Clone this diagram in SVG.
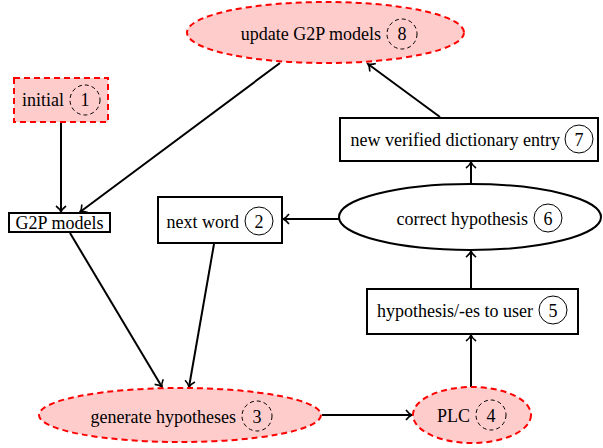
<svg xmlns="http://www.w3.org/2000/svg" width="603" height="448" viewBox="0 0 603 448">
<defs>
<marker id="ah" markerWidth="12" markerHeight="12" refX="9" refY="6" orient="auto" markerUnits="userSpaceOnUse">
<path d="M3,1 Q6,5 9,6 Q6,7 3,11" fill="none" stroke="#000" stroke-width="1.6"/>
</marker>
</defs>
<g id="connectors" fill="none" stroke="#000" stroke-width="2" marker-end="url(#ah)">
<line x1="61" y1="123" x2="61" y2="212"/>
<line x1="280" y1="63" x2="80" y2="212"/>
<line x1="440" y1="117" x2="368" y2="64"/>
<line x1="70" y1="233" x2="162" y2="387"/>
<line x1="214" y1="244" x2="189" y2="387"/>
<line x1="339" y1="219" x2="283" y2="219"/>
<line x1="471" y1="184" x2="471" y2="162"/>
<line x1="471" y1="288" x2="471" y2="251"/>
<line x1="471" y1="387" x2="471" y2="335"/>
<line x1="322" y1="415" x2="412" y2="415"/>
</g>
<g id="n8">
<ellipse cx="325.5" cy="32.5" rx="138.5" ry="30.5" fill="#ffcccc" stroke="#ff0000" stroke-width="2" stroke-dasharray="6,4"/>
<text x="381" y="40" text-anchor="end" font-family="Liberation Serif" font-size="18">update G2P models</text>
<circle cx="402" cy="34" r="15" fill="none" stroke="#000" stroke-width="1" stroke-dasharray="4,3"/>
<text x="402" y="40" text-anchor="middle" font-family="Liberation Serif" font-size="18">8</text>
</g>
<g id="n1">
<rect x="14" y="78" width="94" height="44" fill="#ffcccc" stroke="#ff0000" stroke-width="2" stroke-dasharray="6,4"/>
<text x="64" y="106" text-anchor="end" font-family="Liberation Serif" font-size="18">initial</text>
<circle cx="85" cy="100" r="15" fill="none" stroke="#000" stroke-width="1" stroke-dasharray="4,3"/>
<text x="85" y="106" text-anchor="middle" font-family="Liberation Serif" font-size="18">1</text>
</g>
<g id="g2p">
<rect x="9" y="213" width="101" height="19" fill="#fff" stroke="#000" stroke-width="2"/>
<text x="59.5" y="228.5" text-anchor="middle" font-family="Liberation Serif" font-size="18">G2P models</text>
</g>
<g id="n2">
<rect x="158" y="197" width="124" height="46" fill="#fff" stroke="#000" stroke-width="2"/>
<text x="239" y="228" text-anchor="end" font-family="Liberation Serif" font-size="18">next word</text>
<circle cx="259" cy="221" r="14" fill="none" stroke="#000" stroke-width="1"/>
<text x="259" y="228" text-anchor="middle" font-family="Liberation Serif" font-size="18">2</text>
</g>
<g id="n7">
<rect x="340" y="118" width="258" height="43" fill="#fff" stroke="#000" stroke-width="2"/>
<text x="560" y="146" text-anchor="end" font-family="Liberation Serif" font-size="18">new verified dictionary entry</text>
<circle cx="579" cy="139" r="14" fill="none" stroke="#000" stroke-width="1"/>
<text x="579" y="146" text-anchor="middle" font-family="Liberation Serif" font-size="18">7</text>
</g>
<g id="n6">
<ellipse cx="470" cy="217" rx="131" ry="33" fill="#fff" stroke="#000" stroke-width="2"/>
<text x="528" y="225" text-anchor="end" font-family="Liberation Serif" font-size="18">correct hypothesis</text>
<circle cx="548" cy="218" r="14" fill="none" stroke="#000" stroke-width="1"/>
<text x="548" y="225" text-anchor="middle" font-family="Liberation Serif" font-size="18">6</text>
</g>
<g id="n5">
<rect x="367" y="289" width="211" height="45" fill="#fff" stroke="#000" stroke-width="2"/>
<text x="533" y="317" text-anchor="end" font-family="Liberation Serif" font-size="18">hypothesis/-es to user</text>
<circle cx="553" cy="310" r="14" fill="none" stroke="#000" stroke-width="1"/>
<text x="553" y="317" text-anchor="middle" font-family="Liberation Serif" font-size="18">5</text>
</g>
<g id="n3">
<ellipse cx="180" cy="415" rx="141" ry="27" fill="#ffcccc" stroke="#ff0000" stroke-width="2" stroke-dasharray="6,4"/>
<text x="236" y="423" text-anchor="end" font-family="Liberation Serif" font-size="18">generate hypotheses</text>
<circle cx="257" cy="416" r="15" fill="none" stroke="#000" stroke-width="1" stroke-dasharray="4,3"/>
<text x="257" y="423" text-anchor="middle" font-family="Liberation Serif" font-size="18">3</text>
</g>
<g id="n4">
<ellipse cx="472" cy="415" rx="59" ry="28" fill="#ffcccc" stroke="#ff0000" stroke-width="2" stroke-dasharray="6,4"/>
<text x="470" y="422" text-anchor="end" font-family="Liberation Serif" font-size="18">PLC</text>
<circle cx="491" cy="415" r="15" fill="none" stroke="#000" stroke-width="1" stroke-dasharray="4,3"/>
<text x="491" y="422" text-anchor="middle" font-family="Liberation Serif" font-size="18">4</text>
</g>
</svg>
